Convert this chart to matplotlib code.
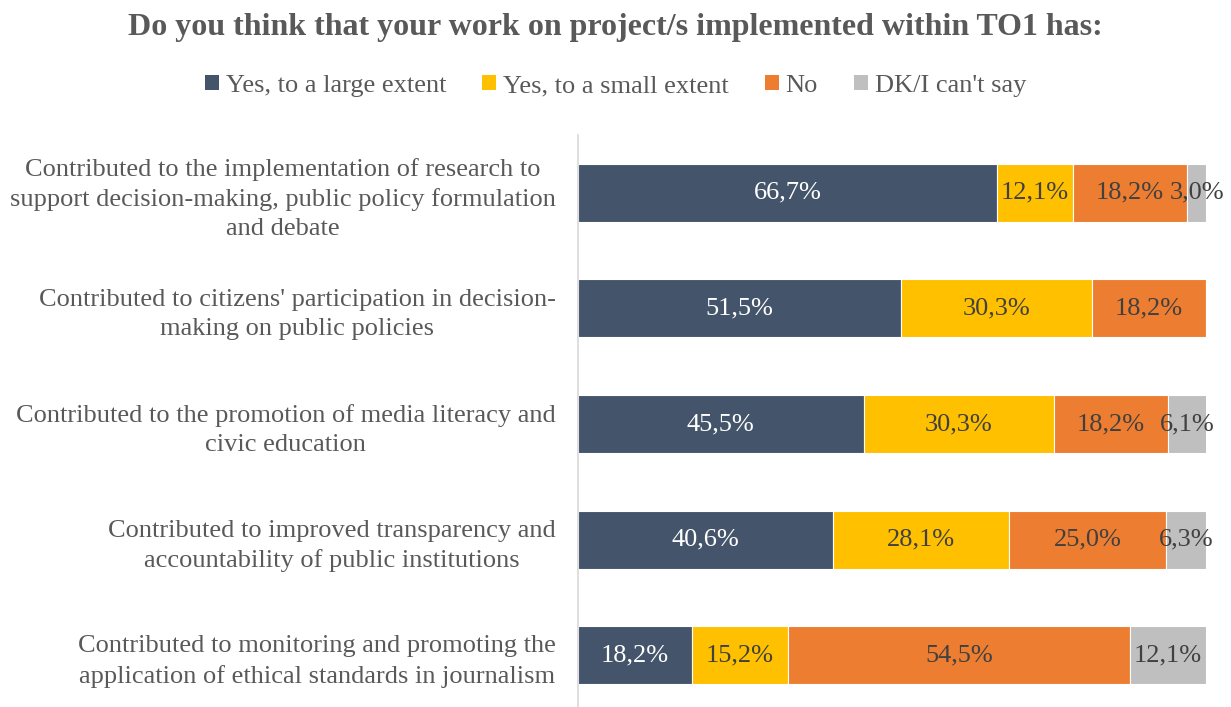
import numpy as np
import matplotlib.pyplot as plt
from matplotlib.patches import Patch

plt.rcParams['font.family'] = ['Liberation Serif', 'DejaVu Serif']

categories = [
    "Contributed to the implementation of research to\nsupport decision-making, public policy formulation\nand debate",
    "Contributed to citizens' participation in decision-\nmaking on public policies",
    "Contributed to the promotion of media literacy and\ncivic education",
    "Contributed to improved transparency and\naccountability of public institutions",
    "Contributed to monitoring and promoting the\napplication of ethical standards in journalism",
]
series = ["Yes, to a large extent", "Yes, to a small extent", "No", "DK/I can't say"]
large = [66.7, 51.5, 45.5, 40.6, 18.2]
small = [12.1, 30.3, 30.3, 28.1, 15.2]
no = [18.2, 18.2, 18.2, 25.0, 54.5]
dk = [3.0, 0.0, 6.1, 6.3, 12.1]

colors = ["#44546A", "#FFC000", "#ED7D31", "#BFBFBF"]
text_colors = ["white", "#404040", "#404040", "#404040"]

fig = plt.figure(figsize=(12.31, 7.07), dpi=100)
ax = fig.add_axes([578 / 1231, -6 / 707, 628 / 1231, 578 / 707])

y = np.arange(len(categories))
left = np.zeros(len(categories))
for vals, name, col, tcol in zip([large, small, no, dk], series, colors, text_colors):
    vals = np.array(vals)
    ax.barh(y, vals, left=left, height=0.5, color=col, edgecolor="white", linewidth=0.8, label=name)
    for yi, l, v in zip(y, left, vals):
        if v > 0:
            ax.text(l + v / 2, yi, f"{v:.1f}%".replace(".", ","), ha="center", va="center",
                    fontsize=19, color=tcol)
    left += vals

ax.set_xlim(0, 100)
ax.set_ylim(len(categories) - 0.5, -0.5)
ax.set_yticks(y)
ax.set_yticklabels(categories, fontsize=19, color="#595959", ha="right",
                   multialignment="center", linespacing=1.42)
ax.tick_params(axis="y", length=0, pad=16)
ax.set_xticks([])
for s in ["top", "right", "bottom"]:
    ax.spines[s].set_visible(False)
ax.spines["left"].set_color("#D9D9D9")
ax.spines["left"].set_linewidth(1.2)

fig.text(0.5, 1 - 27 / 707, "Do you think that your work on project/s implemented within TO1 has:",
         ha="center", va="center", fontsize=23, fontweight="bold", color="#595959")

handles = [Patch(facecolor=c, label=n) for c, n in zip(colors, series)]
fig.legend(handles=handles, loc="center", bbox_to_anchor=(0.5, 1 - 86 / 707), ncol=4,
           frameon=False, fontsize=19, handlelength=0.53, handleheight=0.53,
           handletextpad=0.27, columnspacing=1.35, labelcolor="#595959")

fig.savefig("out.png", dpi=100)
